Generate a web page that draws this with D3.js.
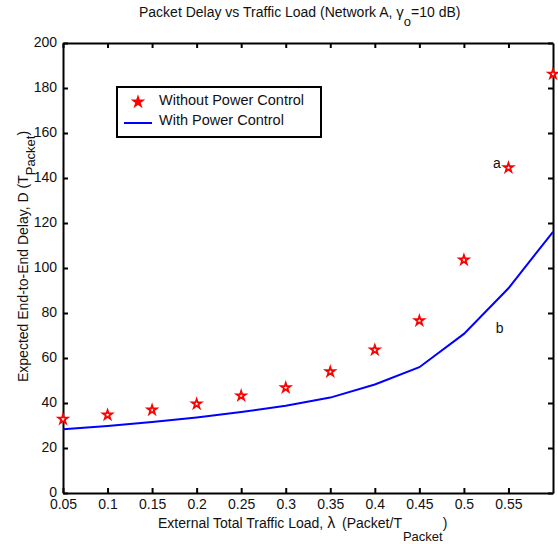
<!DOCTYPE html>
<html>
<head>
<meta charset="utf-8">
<script src="https://cdn.jsdelivr.net/npm/d3@7"></script>
<style>
  body { margin: 0; background: #fff; }
  text { font-family: "Liberation Sans", Arial, sans-serif; fill: #111; }
</style>
</head>
<body>
<svg class="chart"></svg>
<script>
var loads = [0.05, 0.1, 0.15, 0.2, 0.25, 0.3, 0.35, 0.4, 0.45, 0.5, 0.55, 0.6];
var withoutPC = [32.8, 34.7, 36.9, 39.6, 43.2, 46.8, 53.9, 63.6, 76.6, 103.6, 144.6, 186.2];
var withPC = [28.3, 29.8, 31.6, 33.6, 36.0, 38.8, 42.4, 48.2, 55.9, 70.7, 91.0, 116.1];
var xTicks = [0.05, 0.1, 0.15, 0.2, 0.25, 0.3, 0.35, 0.4, 0.45, 0.5, 0.55];
var yTicks = [0, 20, 40, 60, 80, 100, 120, 140, 160, 180, 200];
var notes = [{t: "a", x: 0.537, y: 144.4}, {t: "b", x: 0.54, y: 71.1}];

var margin = {top: 43, right: 5, bottom: 51, left: 63},
    width = 558 - margin.left - margin.right,
    height = 544 - margin.top - margin.bottom;

var x = d3.scaleLinear().domain([0.05, 0.6]).range([0, width]),
    y = d3.scaleLinear().domain([0, 200]).range([height, 0]);

var svg = d3.select(".chart")
    .attr("width", 558)
    .attr("height", 544);

var chart = svg.append("g")
    .attr("transform", "translate(" + margin.left + "," + margin.top + ")");

// axes, ticks pointing inward like matlab
var fmt = function(d) { return String(d); };
chart.append("g")
    .attr("class", "x axis")
    .attr("transform", "translate(0," + height + ")")
    .call(d3.axisBottom(x).tickValues(xTicks).tickFormat(fmt).tickSizeInner(-5).tickSizeOuter(0).tickPadding(6));
chart.append("g")
    .attr("class", "x axis top")
    .call(d3.axisTop(x).tickValues(xTicks).tickFormat("").tickSizeInner(-5).tickSizeOuter(0));
chart.append("g")
    .attr("class", "y axis")
    .call(d3.axisLeft(y).tickValues(yTicks).tickFormat(fmt).tickSizeInner(-5).tickSizeOuter(0).tickPadding(6));
chart.append("g")
    .attr("class", "y axis right")
    .attr("transform", "translate(" + width + ",0)")
    .call(d3.axisRight(y).tickValues(yTicks).tickFormat("").tickSizeInner(-5).tickSizeOuter(0));

chart.selectAll(".axis path, .axis line")
    .attr("stroke", "#000")
    .attr("stroke-width", 2);
chart.selectAll(".axis text")
    .style("font-size", "14px")
    .attr("fill", "#111");
chart.selectAll(".y.axis text").attr("dy", "0.25em");

// line
var line = d3.line()
    .x(function(d, i) { return x(loads[i]); })
    .y(function(d) { return y(d); });

chart.append("path")
    .datum(withPC)
    .attr("fill", "none")
    .attr("stroke", "#0000ff")
    .attr("stroke-width", 2)
    .attr("d", line);

var star = d3.symbol().type(d3.symbolStar).size(26);

chart.selectAll(".star")
    .data(withoutPC)
  .enter().append("path")
    .attr("class", "star")
    .attr("d", star)
    .attr("transform", function(d, i) { return "translate(" + x(loads[i]) + "," + y(d) + ")"; })
    .attr("fill", "#fff")
    .attr("stroke", "#ff0000")
    .attr("stroke-width", 1.8);

chart.selectAll(".note")
    .data(notes)
  .enter().append("text")
    .attr("class", "note")
    .attr("x", function(d) { return x(d.x); })
    .attr("y", function(d) { return y(d.y); })
    .attr("text-anchor", "middle")
    .style("font-size", "14px")
    .text(function(d) { return d.t; });

// legend
var legend = svg.append("g").attr("transform", "translate(117,87)");
legend.append("rect")
    .attr("width", 204).attr("height", 50)
    .attr("fill", "#fff").attr("stroke", "#000").attr("stroke-width", 2);
legend.append("path")
    .attr("d", star)
    .attr("transform", "translate(21,15)")
    .attr("fill", "#ff0000").attr("stroke", "#ff0000").attr("stroke-width", 1.8);
legend.append("line")
    .attr("x1", 7).attr("x2", 35).attr("y1", 36).attr("y2", 36)
    .attr("stroke", "#0000ff").attr("stroke-width", 2);
legend.append("text").attr("x", 42).attr("y", 18).style("font-size", "14.5px").text("Without Power Control");
legend.append("text").attr("x", 42).attr("y", 38).style("font-size", "14.5px").text("With Power Control");

// title
var title = svg.append("text")
    .attr("x", 139).attr("y", 17)
    .style("font-size", "14px");
title.append("tspan").text("Packet Delay vs Traffic Load (Network A, ");
title.append("tspan").style("font-size", "15px").text("γ");
title.append("tspan").attr("dy", 9).style("font-size", "13px").text("o");
title.append("tspan").attr("dy", -9).text("=10  dB)");

// x label
var xl = svg.append("text")
    .attr("x", 158).attr("y", 528)
    .style("font-size", "14px");
xl.append("tspan").text("External Total Traffic Load, ");
xl.append("tspan").style("font-size", "16px").text("λ");
xl.append("tspan").attr("dx", 3).text(" (Packet/T");
xl.append("tspan").attr("dx", 1).attr("dy", 13).style("font-size", "13px").text("Packet");
xl.append("tspan").attr("dy", -13).text(")");

// y label
var yl = svg.append("text")
    .attr("transform", "translate(28,382) rotate(-90)")
    .style("font-size", "14px");
yl.append("tspan").text("Expected End-to-End Delay, D (T");
yl.append("tspan").attr("dy", 7).style("font-size", "13px").text("Packet");
yl.append("tspan").attr("dy", -7).text(")");
</script>
</body>
</html>
